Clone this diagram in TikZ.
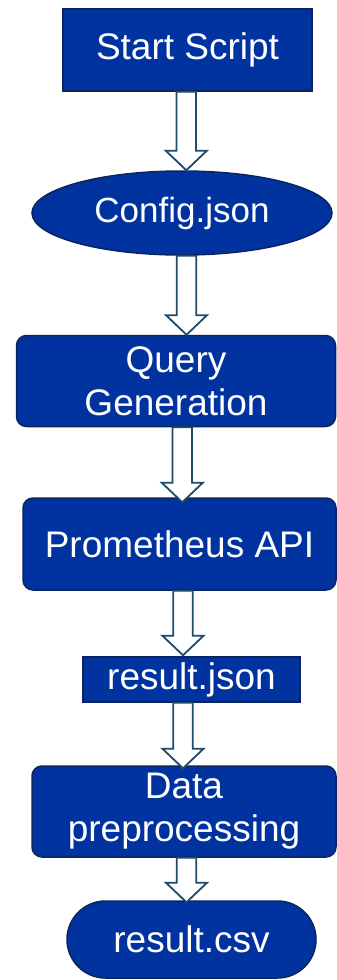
\documentclass[tikz,border=0pt]{standalone}
\usepackage{fontspec}
\setmainfont{Liberation Sans}
\usetikzlibrary{shapes.geometric,calc}

\definecolor{boxfill}{RGB}{0,51,160}
\definecolor{boxline}{RGB}{12,36,94}
\definecolor{arrowline}{RGB}{32,74,106}

\tikzset{
  flowbox/.style={draw=boxline, fill=boxfill, line width=1.5pt, text=white,
    inner sep=0pt, align=center,
    font=\fontsize{37}{43}\selectfont},
  roundbox/.style={flowbox, rounded corners=10pt},
  blockarrow/.style={draw=arrowline, fill=white, line width=1.8pt, line join=miter}
}

% hollow block arrow: #1 = shaft x, #2 = source node, #3 = target node, #4 = tip overshoot
\newcommand\flowarrow[4]{%
  \path[blockarrow] let \p1=(#2.south), \p2=(#3.north) in
    (#1pt-9.75pt,\y1) -- (#1pt-9.75pt,\y2-#4pt+19.5pt) -- (#1pt-20.5pt,\y2-#4pt+19.5pt)
    -- (#1pt,\y2-#4pt) -- (#1pt+20.5pt,\y2-#4pt+19.5pt) -- (#1pt+9.75pt,\y2-#4pt+19.5pt)
    -- (#1pt+9.75pt,\y1) -- cycle;}

\begin{document}
\begin{tikzpicture}[x=1pt,y=-1pt]
\useasboundingbox (0,0) rectangle (337,980);

\node[flowbox, minimum width=249pt, minimum height=82pt] (start) at (187.5,50) {Start Script};
\node[flowbox, ellipse, minimum width=300pt, minimum height=84pt,
      font=\fontsize{35}{40}\selectfont] (config) at (182,213) {Config.json};
\node[roundbox, minimum width=319pt, minimum height=91pt] (query) at (176,381) {Query\\Generation};
\node[roundbox, minimum width=313pt, minimum height=92pt] (prom) at (179.5,544) {Prometheus API};
\node[flowbox, minimum width=217pt, minimum height=45pt] (rjson) at (191.5,679.5) {result.json};
\node[roundbox, minimum width=304pt, minimum height=91pt] (data) at (184,811.5) {Data\\preprocessing};
\node[flowbox, rounded corners=38.5pt, minimum width=249pt, minimum height=77pt] (csv) at (191.5,939.5) {result.csv};

\flowarrow{186.3}{start}{config}{0}
\flowarrow{186.5}{config}{query}{0}
\flowarrow{182.3}{query}{prom}{5}
\flowarrow{183}{prom}{rjson}{-1}
\flowarrow{183}{rjson}{data}{3}
\flowarrow{186.5}{data}{csv}{2}
\end{tikzpicture}
\end{document}
